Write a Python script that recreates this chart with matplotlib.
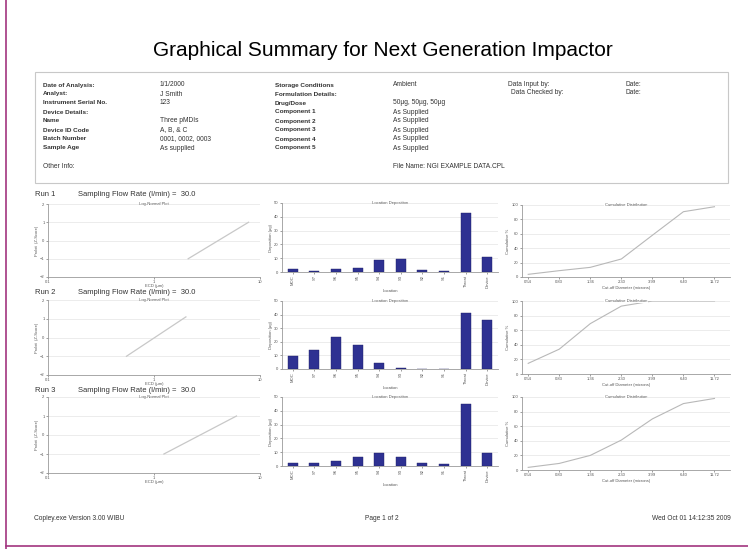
import matplotlib.pyplot as plt
from matplotlib.lines import Line2D
import numpy as np

plt.rcParams["font.family"] = ["Liberation Sans", "DejaVu Sans"]

W, H = 748, 549

# ---- header data ----
labels_col1 = ["Date of Analysis:", "Analyst:", "Instrument Serial No.", "Device Details:",
               "Name", "Device ID Code", "Batch Number", "Sample Age"]
values_col1 = ["1/1/2000", "J Smith", "123", "", "Three pMDIs", "A, B, & C",
               "0001, 0002, 0003", "As supplied"]
labels_col2 = ["Storage Conditions", "Formulation Details:", "Drug/Dose", "Component 1",
               "Component 2", "Component 3", "Component 4", "Component 5"]
values_col2 = ["Ambient", "", "50\u00b5g, 50\u00b5g, 50\u00b5g", "As Supplied", "As Supplied",
               "As Supplied", "As Supplied", "As Supplied"]

# ---- run data ----
runs = ["Run 1", "Run 2", "Run 3"]
flow_rate = 30.0

# log-normal fit lines: ECD (um) vs Z-score
fit_ecd = [[2.1, 7.8], [0.55, 2.0], [1.24, 6.0]]
fit_z = [[-1.0, 1.0], [-1.0, 1.1], [-1.0, 1.0]]

locations = ["MOC", "S7", "S6", "S5", "S4", "S3", "S2", "S1", "Throat", "Device"]
deposition = [
    [2.0, 0.8, 2.0, 3.0, 8.7, 9.2, 1.7, 0.8, 42.6, 10.8],
    [9.6, 14.0, 23.5, 17.6, 4.2, 0.5, 0.3, 0.2, 41.0, 36.0],
    [2.0, 2.0, 3.6, 6.3, 9.2, 6.3, 2.0, 1.5, 45.0, 9.7],
]

cutoffs = ["0.54", "0.83", "1.36", "2.30", "3.99", "6.40", "11.72"]
cumulative = [
    [3.7, 8.8, 13.4, 25.0, 58.0, 90.7, 97.6],
    [14.6, 34.0, 69.0, 93.0, 100.0, 100.0, 100.0],
    [3.6, 9.0, 20.0, 41.0, 70.0, 91.0, 98.0],
]

# pixel layout of each row: (run label y, left axes, middle axes, right axes)
row_px = [
    (195, (48, 204, 260, 277), (282, 203, 498, 272), (522, 205, 730, 277)),
    (293, (48, 300, 260, 375), (282, 301, 498, 369), (522, 301, 730, 374)),
    (390, (48, 397, 260, 473), (282, 397, 498, 466), (522, 397, 730, 470)),
]

fig = plt.figure(figsize=(W / 100, H / 100), dpi=100)
fig.patch.set_facecolor("white")


def fy(y):
    return 1 - y / H


def px_axes(x0, y0, x1, y1):
    return fig.add_axes([x0 / W, 1 - y1 / H, (x1 - x0) / W, (y1 - y0) / H])


def style(ax, title):
    for s in ["top", "right"]:
        ax.spines[s].set_visible(False)
    for s in ["left", "bottom"]:
        ax.spines[s].set_color("#9a9a9a")
        ax.spines[s].set_linewidth(0.6)
    ax.tick_params(labelsize=3, length=1.5, width=0.4, colors="#555555", pad=1)
    ax.yaxis.grid(True, color="#e4e4e4", linewidth=0.5)
    ax.set_axisbelow(True)
    ax.text(0.5, 1.0, title, transform=ax.transAxes, ha="center", va="center",
            fontsize=3, color="#555555",
            bbox=dict(facecolor="white", edgecolor="none", pad=0.3))


# page border
fig.add_artist(Line2D([6 / W, 6 / W], [0, 1], color="#a2357f", lw=1.2))
fig.add_artist(Line2D([6 / W, 1], [fy(546), fy(546)], color="#a2357f", lw=1.2))

# title
fig.text(383 / W, fy(50), "Graphical Summary for Next Generation Impactor",
         ha="center", va="center", fontsize=15, color="#000000")

# info box
fig.add_artist(plt.Rectangle((35 / W, fy(183)), (728 - 35) / W, (183 - 72) / H,
                             fill=False, edgecolor="#c8c8c8", lw=0.8))
for i in range(8):
    y = fy(85 + 9 * i)
    fig.text(43 / W, y, labels_col1[i], fontsize=4.6, fontweight="bold", color="#333333", va="center")
    fig.text(160 / W, y, values_col1[i], fontsize=4.8, color="#333333", va="center")
    fig.text(275 / W, y, labels_col2[i], fontsize=4.6, fontweight="bold", color="#333333", va="center")
    fig.text(393 / W, y, values_col2[i], fontsize=4.8, color="#333333", va="center")
fig.text(508 / W, fy(85), "Data Input by:", fontsize=4.8, color="#333333", va="center")
fig.text(511 / W, fy(93), "Data Checked by:", fontsize=4.8, color="#333333", va="center")
fig.text(625 / W, fy(85), "Date:", fontsize=4.8, color="#333333", va="center")
fig.text(625 / W, fy(93), "Date:", fontsize=4.8, color="#333333", va="center")
fig.text(43 / W, fy(167), "Other Info:", fontsize=4.8, color="#333333", va="center")
fig.text(393 / W, fy(167), "File Name: NGI EXAMPLE DATA.CPL", fontsize=4.8, color="#333333", va="center")

for r in range(3):
    ylab, lrect, mrect, rrect = row_px[r]
    fig.text(35 / W, fy(ylab), runs[r], fontsize=5.5, color="#333333", va="center")
    fig.text(78 / W, fy(ylab), "Sampling Flow Rate (l/min) =  %.1f" % flow_rate,
             fontsize=5.5, color="#333333", va="center")

    # log-normal plot
    ax = px_axes(*lrect)
    style(ax, "Log-Normal Plot")
    ax.tick_params(axis="x", pad=0.5)
    ax.set_xscale("log")
    ax.set_xlim(0.1, 10)
    ax.set_ylim(-2, 2)
    ax.set_xticks([0.1, 1, 10])
    ax.set_xticklabels(["0.1", "1", "10"])
    ax.minorticks_off()
    ax.set_yticks([-2, -1, 0, 1, 2])
    ax.plot(fit_ecd[r], fit_z[r], color="#c8c8c8", lw=0.9)
    ax.set_xlabel("ECD (\u00b5m)", fontsize=3, labelpad=0, color="#555555")
    ax.set_ylabel("Probit  (Z-Score)", fontsize=3, labelpad=1, color="#555555")

    # deposition bar chart
    ax = px_axes(*mrect)
    style(ax, "Location Deposition")
    x = np.arange(len(locations))
    ax.bar(x, deposition[r], width=0.46, color="#2e3192", edgecolor="#1d1f66", lw=0.3)
    ax.set_xlim(-0.5, len(locations) - 0.5)
    ax.set_ylim(0, 50)
    ax.set_yticks(range(0, 51, 10))
    ax.set_xticks(x)
    ax.set_xticklabels(locations, rotation=90)
    ax.set_xlabel("Location", fontsize=3, labelpad=1, color="#555555")
    ax.set_ylabel("Deposition (\u00b5g)", fontsize=3, labelpad=1, color="#555555")

    # cumulative distribution
    ax = px_axes(*rrect)
    style(ax, "Cumulative Distribution")
    xc = np.arange(len(cutoffs))
    ax.plot(xc, cumulative[r], color="#b8b8b8", lw=0.8)
    ax.set_xlim(-0.2, 6.5)
    ax.set_ylim(0, 100)
    ax.set_yticks(range(0, 101, 20))
    ax.set_xticks(xc)
    ax.set_xticklabels(cutoffs)
    ax.set_xlabel("Cut-off Diameter (microns)", fontsize=3, labelpad=1, color="#555555")
    ax.set_ylabel("Cumulative %", fontsize=3, labelpad=1, color="#555555")

# footer
fig.text(34 / W, fy(518), "Copley.exe Version 3.00 WIBU", fontsize=4.8, color="#333333", va="center")
fig.text(382 / W, fy(518), "Page 1 of 2", fontsize=4.8, color="#333333", va="center", ha="center")
fig.text(731 / W, fy(518), "Wed Oct 01 14:12:35 2009", fontsize=4.8, color="#333333", va="center", ha="right")

fig.savefig("out.png", dpi=100, facecolor="white")
